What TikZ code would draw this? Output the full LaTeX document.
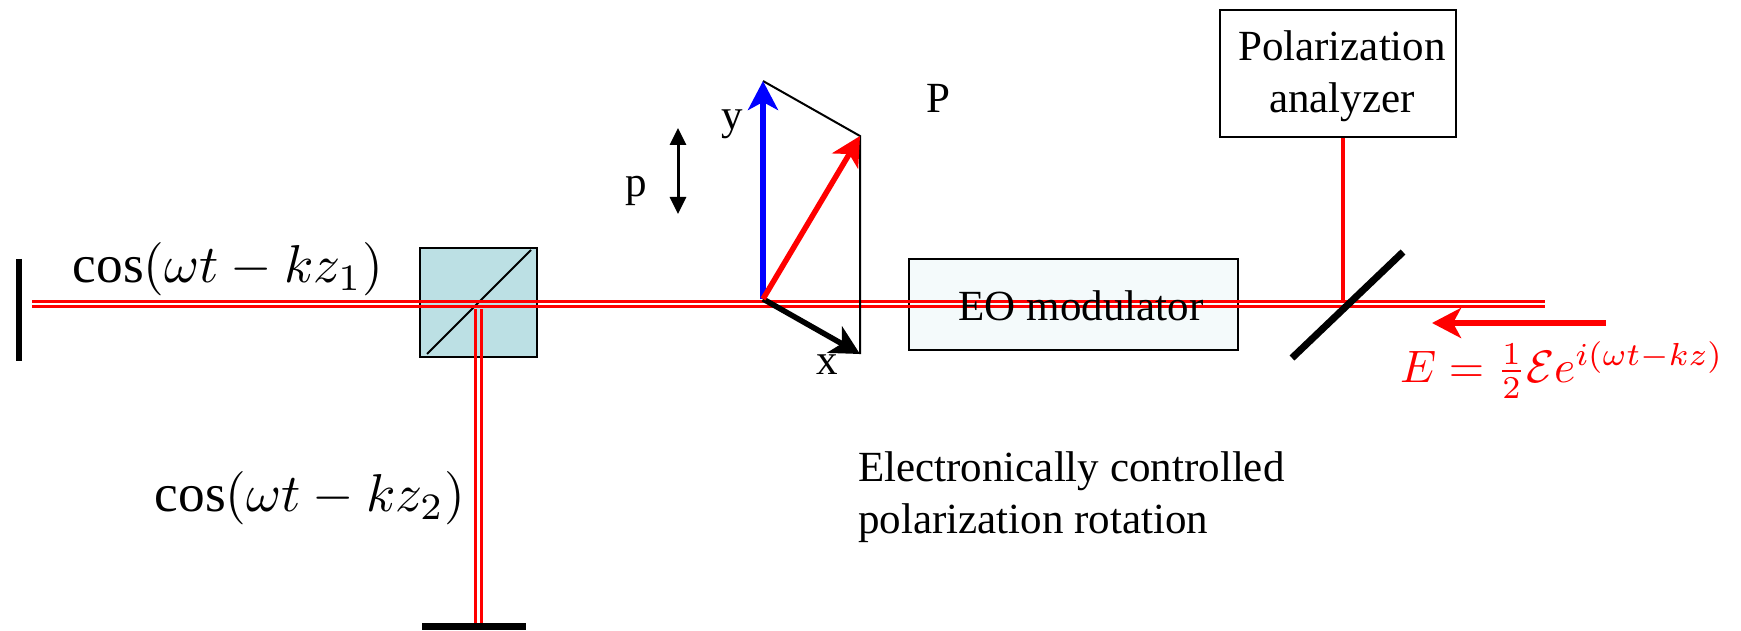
\documentclass[tikz,border=0pt]{standalone}
\usepackage{amsmath}
\usepackage{fontspec}
\setmainfont{Liberation Serif}
\usepackage{xcolor}
\usetikzlibrary{arrows.meta, positioning}
\definecolor{cubeblue}{HTML}{BCE0E4}
\definecolor{modfill}{HTML}{F4FAFB}
\tikzset{
	beam/.style={draw=red, line width=3pt},
	mirror/.style={draw=black, line width=7pt},
	thinline/.style={draw=black, line width=2pt},
	vect/.style={line width=5.5pt, -{Stealth[length=29pt, width=30pt, inset=8pt]}},
	boxtext/.style={font=\fontsize{43}{52}\selectfont, inner sep=0pt},
	eqtext/.style={inner sep=0pt}
}
\begin{document}
\begin{tikzpicture}[x=1pt, y=-1pt]
	\useasboundingbox (0,0) rectangle (1741,631);
	
	%% Coordinates
	\coordinate (beamL) at (32,303.5);
	\coordinate (beamR) at (1545,303.5);
	\coordinate (split) at (478.5,309);
	\coordinate (splitEnd) at (478.5,626);
	\coordinate (origin) at (763,299);
	\coordinate (yTip) at (763,81);
	\coordinate (pTip) at (860,136);
	\coordinate (xTip) at (860,354);
	
	%% Boxes
	\node [draw=black, line width=2pt, fill=cubeblue, minimum width=117pt, minimum height=109pt, inner sep=0pt] (cube) at (478.5,302.5) {};
	\node [draw=black, line width=2pt, fill=modfill, minimum width=329pt, minimum height=91pt, inner sep=0pt] (modbox) at (1073.5,304.5) {};
	\node [draw=black, line width=2pt, minimum width=236pt, minimum height=127pt, inner sep=0pt] (analyzer) at (1338,73.5) {};
	
	%% Cube diagonal
	\draw [line width=2pt] (427,354)--(531,250);
	
	%% Beams
	\foreach \shift in {-2.5,2.5}
		\draw [beam] ([yshift=\shift pt]beamL)--([yshift=\shift pt]beamR);
	\foreach \shift in {-2.8,2.8}
		\draw [beam] ([xshift=\shift pt]split)--([xshift=\shift pt]splitEnd);
	\draw [draw=red, line width=3.5pt] (analyzer.south -| 1343,0)--(1343,302);
	
	%% Mirrors
	\draw [line width=6pt] (19,259)--(19,361);
	\draw [mirror] (422,626)--(526,626);
	\draw [mirror] (1292,358)--(1403,252);
	
	%% Parallelogram
	\draw [thinline] (yTip)--(pTip)--(xTip);
	
	%% Vectors
	\draw [vect, blue] (origin)--(yTip);
	\draw [vect, black] (origin)--(xTip);
	\draw [vect, red] (origin)--(pTip);
	\draw [line width=3pt, {Stealth[length=17pt, width=16pt, inset=0pt]}-{Stealth[length=17pt, width=16pt, inset=0pt]}] (678,128)--(678,214);
	\draw [vect, red] (1606,323)--(1432,323);
	
	%% Labels
	\node [boxtext] (eolabel) at (1081,306) {EO modulator};
	\node [boxtext, align=center] (analyzerlabel) at ([xshift=4pt, yshift=-3pt]analyzer) {Polarization\\analyzer};
	\node [boxtext] (ylabel) at (732,124) {y};
	\node [boxtext] (plabel) at (636,191) {p};
	\node [boxtext] (xlabel) at (827,365) {x};
	\node [boxtext] (Plabel) at (938,98) {P};
	\node [boxtext, align=left, anchor=west] (rotlabel) at (858,497) {Electronically controlled\\polarization rotation};
	\node [eqtext, scale=5.33] (cosone) at (228,269) {$\cos(\omega t-kz_1)$};
	\node [eqtext, scale=5.33] (costwo) at (310,498) {$\cos(\omega t-kz_2)$};
	\node [eqtext, scale=4.55, red] (field) at (1562,370) {$E=\frac{1}{2}\mathcal{E}e^{i(\omega t-kz)}$};
\end{tikzpicture}
\end{document}
